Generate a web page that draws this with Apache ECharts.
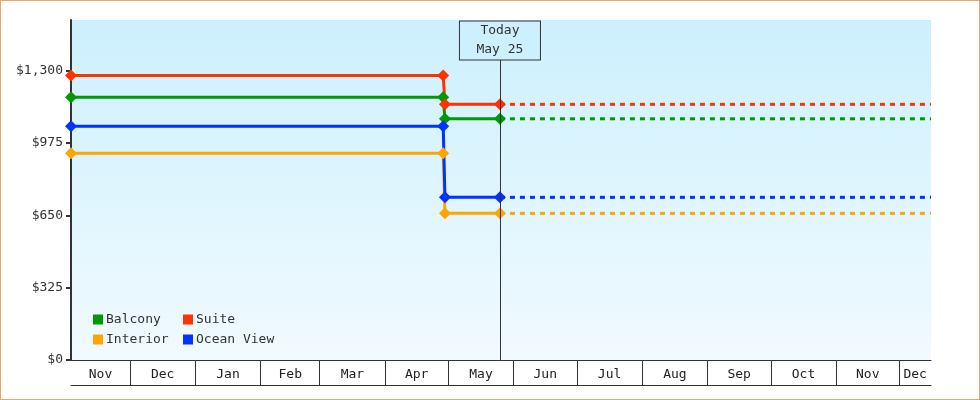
<!DOCTYPE html>
<html>
<head>
<meta charset="utf-8">
<script src="https://cdn.jsdelivr.net/npm/echarts@6/dist/echarts.min.js"></script>
<style>
  html, body { margin: 0; padding: 0; background: #fff; }
  #wrap { position: relative; width: 980px; height: 400px; }
  #chart { width: 980px; height: 400px; }
  #frame { position: absolute; left: 0; top: 0; width: 980px; height: 400px; box-sizing: border-box; border: 1px solid #e9a865; pointer-events: none; }
</style>
</head>
<body>
<div id="wrap"><div id="chart"></div><div id="frame"></div></div>
<script>
// ---- data ----
const axisStart = '2022-11-03T00:00:00Z';
const axisEnd = '2023-12-16T00:00:00Z';
const todayDate = '2023-05-25T12:00:00Z';
const todayLabel = 'Today\nMay 25';
const priceDates = ['2022-11-03T00:00:00Z', '2023-04-28T14:00:00Z', '2023-04-29T10:00:00Z', '2023-05-25T12:00:00Z'];
const cabins = ['Balcony', 'Suite', 'Interior', 'Ocean View'];
const balconyPrices = [1181, 1181, 1084, 1084];
const suitePrices = [1279, 1279, 1149, 1149];
const interiorPrices = [929, 929, 659, 659];
const oceanViewPrices = [1051, 1051, 731, 731];
const yTicks = [0, 325, 650, 975, 1300];
const monthNames = ['Jan','Feb','Mar','Apr','May','Jun','Jul','Aug','Sep','Oct','Nov','Dec'];

// ---- build ----
const FONT = 'DejaVu Sans Mono';
const colors = { 'Balcony': '#009900', 'Suite': '#ff3300', 'Interior': '#ffa500', 'Ocean View': '#0033ff' };
const pricesByCabin = { 'Balcony': balconyPrices, 'Suite': suitePrices, 'Interior': interiorPrices, 'Ocean View': oceanViewPrices };
const tMin = Date.parse(axisStart), tMax = Date.parse(axisEnd), tToday = Date.parse(todayDate);

// month boundaries within range
const monthStarts = [];
{
  const d = new Date(tMin);
  let y = d.getUTCFullYear(), m = d.getUTCMonth() + 1;
  while (true) {
    if (m > 11) { m = 0; y++; }
    const t = Date.UTC(y, m, 1);
    if (t >= tMax) break;
    monthStarts.push(t);
    m++;
  }
}
const bounds = [tMin].concat(monthStarts, [tMax]);
const monthMids = [];
for (let i = 0; i < bounds.length - 1; i++) monthMids.push((bounds[i] + bounds[i + 1]) / 2);

const series = [];
series.push({
  type: 'line', name: '_today', data: [], silent: true, z: 1,
  markLine: {
    silent: true, symbol: 'none', animation: false,
    lineStyle: { color: '#333', width: 1, type: 'solid' },
    label: {
      show: true, position: 'end', distance: 0, formatter: todayLabel,
      fontFamily: FONT, fontSize: 13, color: '#333', lineHeight: 19,
      backgroundColor: '#ccf0fd', borderColor: '#333', borderWidth: 1,
      padding: [0, 0], width: 80, align: 'center'
    },
    data: [[{ coord: [tToday, 0] }, { coord: [tToday, 1350] }]]
  }
});
cabins.forEach(function (name) {
  const p = pricesByCabin[name];
  const c = colors[name];
  series.push({
    type: 'line', name: name, z: 3,
    data: priceDates.map(function (d, i) { return [Date.parse(d), p[i]]; }),
    symbol: 'diamond', symbolSize: 12, showSymbol: true,
    itemStyle: { color: c },
    lineStyle: { color: c, width: 3 },
    animation: false
  });
  series.push({
    type: 'line', name: name, z: 2,
    data: [[tToday, p[p.length - 1]], [tMax, p[p.length - 1]]],
    symbol: 'none',
    itemStyle: { color: c },
    lineStyle: { color: c, width: 3, type: [5, 5] },
    animation: false
  });
});

const legendCommon = {
  orient: 'vertical', icon: 'rect', itemWidth: 10, itemHeight: 10, itemGap: 7, padding: 0,
  textStyle: { fontFamily: FONT, fontSize: 13, color: '#333', padding: [0, 0, 0, -2] },
  selectedMode: false
};

const option = {
  animation: false,
  grid: {
    left: 71, right: 49, top: 20, bottom: 40, show: true, borderWidth: 0,
    backgroundColor: new echarts.graphic.LinearGradient(0, 0, 0, 1, [
      { offset: 0, color: '#ccf0fd' }, { offset: 1, color: '#f1faff' }
    ])
  },
  legend: [
    Object.assign({ left: 93, top: 313, data: [cabins[0], cabins[2]] }, legendCommon),
    Object.assign({ left: 183, top: 313, data: [cabins[1], cabins[3]] }, legendCommon)
  ],
  xAxis: [
    {
      type: 'value', min: tMin, max: tMax, position: 'bottom', scale: true,
      axisLine: { show: true, lineStyle: { color: '#333', width: 1 } },
      axisTick: { show: true, customValues: monthStarts, length: 25, inside: false, lineStyle: { color: '#333', width: 1 } },
      axisLabel: {
        customValues: monthMids, margin: 8, fontFamily: FONT, fontSize: 13, color: '#222',
        hideOverlap: false,
        formatter: function (v) { return monthNames[new Date(v).getUTCMonth()]; }
      },
      splitLine: { show: false }
    },
    {
      type: 'value', min: tMin, max: tMax, position: 'bottom', offset: 25, scale: true,
      axisLine: { show: true, lineStyle: { color: '#333', width: 1 } },
      axisTick: { show: false }, axisLabel: { show: false }, splitLine: { show: false }
    }
  ],
  yAxis: {
    type: 'value', min: 0, max: 1528, interval: 325,
    axisLine: { show: true, lineStyle: { color: '#333', width: 2 } },
    axisTick: { show: true, customValues: yTicks, length: 5, lineStyle: { color: '#333', width: 2 } },
    axisLabel: {
      customValues: yTicks, margin: 8, fontFamily: FONT, fontSize: 13, color: '#333',
      formatter: function (v) { return '$' + Math.round(v).toString().replace(/\B(?=(\d{3})+(?!\d))/g, ','); }
    },
    splitLine: { show: false }
  },
  series: series
};

const chart = echarts.init(document.getElementById('chart'), null, { renderer: 'canvas' });
chart.setOption(option);
</script>
</body>
</html>
